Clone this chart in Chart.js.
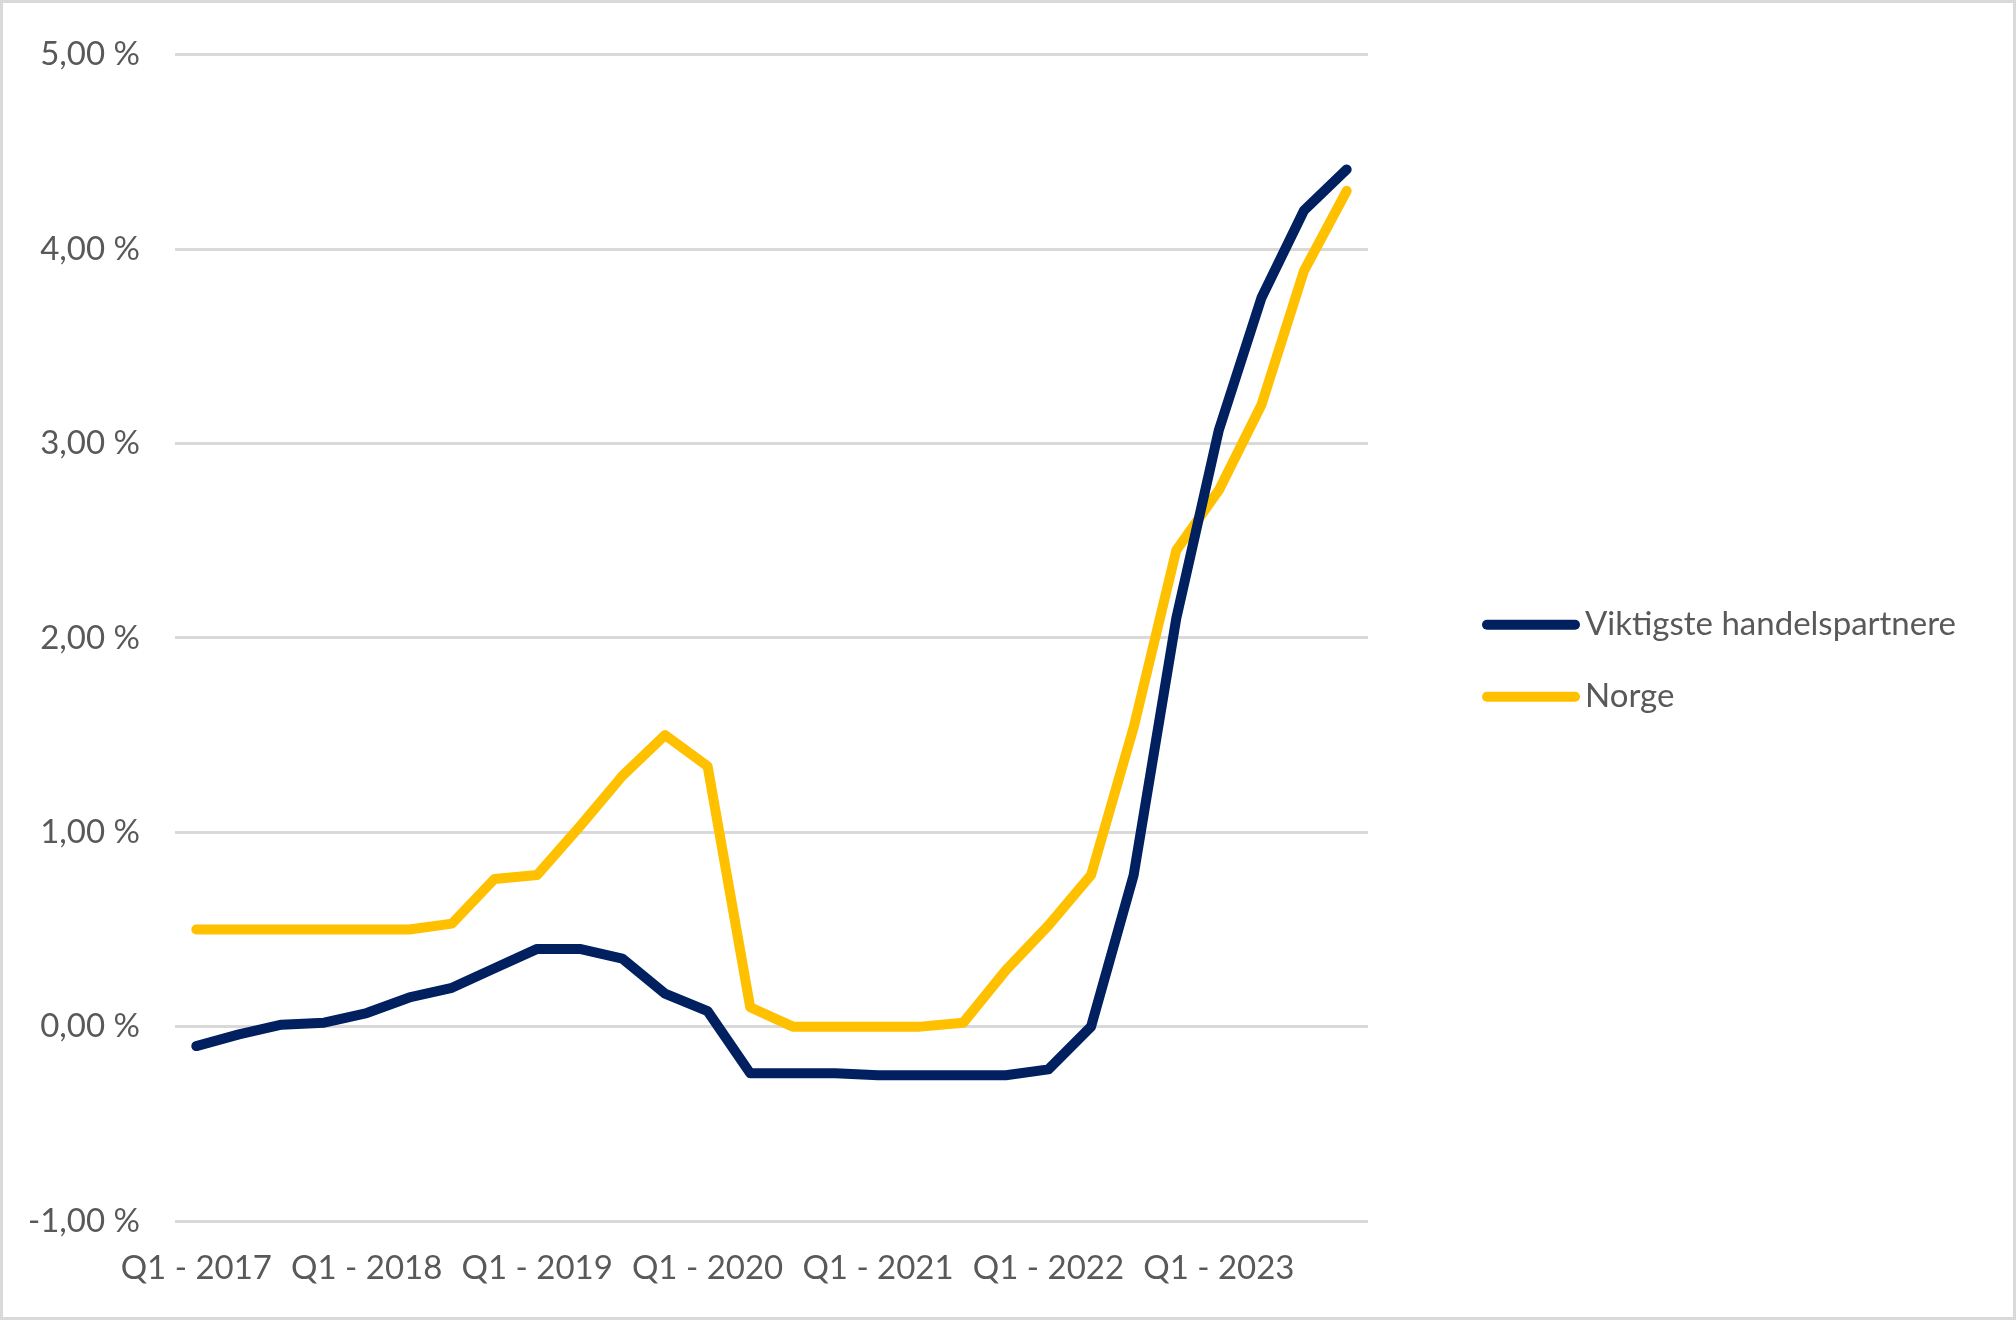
<!DOCTYPE html>
<html>
<head>
<meta charset="utf-8">
<script src="https://cdn.jsdelivr.net/npm/chart.js@4.4.1/dist/chart.umd.min.js"></script>
<style>
  html, body { margin: 0; padding: 0; background: #fff; }
  #wrap { width: 2016px; height: 1320px; position: relative; }
</style>
</head>
<body>
<div id="wrap"><canvas id="rateChart" width="2016" height="1320"></canvas></div>
<script>
// quarterly policy rates
const quarters = [
    'Q1 - 2017', 'Q2 - 2017', 'Q3 - 2017', 'Q4 - 2017',
    'Q1 - 2018', 'Q2 - 2018', 'Q3 - 2018', 'Q4 - 2018',
    'Q1 - 2019', 'Q2 - 2019', 'Q3 - 2019', 'Q4 - 2019',
    'Q1 - 2020', 'Q2 - 2020', 'Q3 - 2020', 'Q4 - 2020',
    'Q1 - 2021', 'Q2 - 2021', 'Q3 - 2021', 'Q4 - 2021',
    'Q1 - 2022', 'Q2 - 2022', 'Q3 - 2022', 'Q4 - 2022',
    'Q1 - 2023', 'Q2 - 2023', 'Q3 - 2023', 'Q4 - 2023'
];
const partners = [
    -0.10, -0.04, 0.01, 0.02, 0.07, 0.15, 0.20, 0.30,
    0.40, 0.40, 0.35, 0.17, 0.08, -0.24, -0.24, -0.24,
    -0.25, -0.25, -0.25, -0.25, -0.22, 0.00, 0.78, 2.10,
    3.07, 3.75, 4.20, 4.41
];
const norway = [
    0.50, 0.50, 0.50, 0.50, 0.50, 0.50, 0.53, 0.76,
    0.78, 1.03, 1.29, 1.50, 1.34, 0.10, 0.00, 0.00,
    0.00, 0.00, 0.02, 0.29, 0.52, 0.78, 1.54, 2.45,
    2.76, 3.20, 3.89, 4.30
];
const seriesNames = ['Viktigste handelspartnere', 'Norge'];
const yTicks = { min: -1, max: 5, step: 1 };

const textColor = '#595959';
const fontFamily = 'Lato, "Open Sans", sans-serif';
const font = { family: fontFamily, size: 33 };

// white background + thin grey frame like the exported picture
const framePlugin = {
    id: 'frame',
    beforeDraw(chart) {
        const c = chart.ctx;
        c.save();
        c.fillStyle = '#ffffff';
        c.fillRect(0, 0, chart.width, chart.height);
        c.restore();
    },
    afterDraw(chart) {
        const c = chart.ctx;
        c.save();
        c.strokeStyle = '#d9d9d9';
        c.lineWidth = 3;
        c.strokeRect(1.5, 1.5, chart.width - 3, chart.height - 3);
        c.restore();
    }
};

// legend to the right of the plot, Excel style (the built-in one gets
// squeezed to half the free width, which cuts the long series name)
const sideLegend = {
    id: 'sideLegend',
    afterDraw(chart) {
        const c = chart.ctx;
        const area = chart.chartArea;
        const x0 = area.right + 119;
        const lineLen = 88;
        c.save();
        chart.data.datasets.forEach((ds, i) => {
            const cy = area.top + 570 + i * 72;
            c.strokeStyle = ds.borderColor;
            c.lineWidth = ds.borderWidth;
            c.lineCap = 'round';
            c.beginPath();
            c.moveTo(x0, cy);
            c.lineTo(x0 + lineLen, cy);
            c.stroke();
            c.fillStyle = textColor;
            c.font = font.size + 'px ' + fontFamily;
            c.textBaseline = 'middle';
            c.textAlign = 'left';
            c.fillText(ds.label, x0 + lineLen + 10, cy);
        });
        c.restore();
    }
};

const ctx = document.getElementById('rateChart');
new Chart(ctx, {
    type: 'line',
    data: {
        labels: quarters,
        datasets: [{
            label: seriesNames[0],
            data: partners,
            borderColor: '#002060',
            backgroundColor: '#002060',
            borderWidth: 10,
            borderCapStyle: 'round',
            borderJoinStyle: 'round',
            pointRadius: 0,
            tension: 0
        }, {
            label: seriesNames[1],
            data: norway,
            borderColor: '#ffc000',
            backgroundColor: '#ffc000',
            borderWidth: 10,
            borderCapStyle: 'round',
            borderJoinStyle: 'round',
            pointRadius: 0,
            tension: 0
        }]
    },
    options: {
        responsive: false,
        animation: false,
        devicePixelRatio: 1,
        layout: { padding: { top: 50, bottom: 0, left: 0, right: 648 } },
        plugins: {
            title: { display: false },
            tooltip: { enabled: false },
            legend: { display: false }
        },
        scales: {
            x: {
                offset: true,
                grid: { display: false, drawTicks: false },
                border: { display: false },
                ticks: {
                    autoSkip: false,
                    maxRotation: 0,
                    padding: 28,
                    color: textColor,
                    font: font,
                    callback(value, index) {
                        return index % 4 === 0 ? quarters[index] : '';
                    }
                },
                afterFit(scale) { scale.height = 99; }
            },
            y: {
                min: yTicks.min,
                max: yTicks.max,
                grid: { color: '#d9d9d9', lineWidth: 3, drawTicks: false },
                border: { display: false },
                ticks: {
                    stepSize: yTicks.step,
                    padding: 35,
                    color: textColor,
                    font: font,
                    callback(v) {
                        return v.toFixed(2).replace('.', ',') + ' %';
                    }
                },
                afterFit(scale) { scale.width = 175; }
            }
        }
    },
    plugins: [framePlugin, sideLegend]
});
</script>
</body>
</html>
